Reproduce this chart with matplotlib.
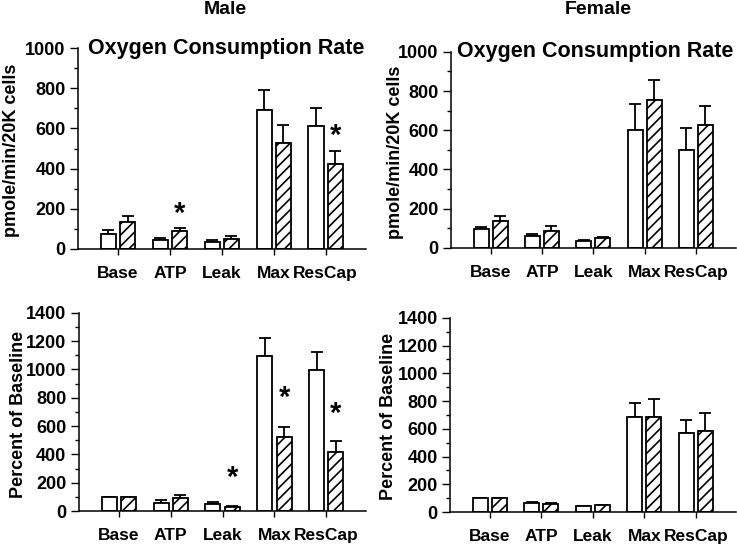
import numpy as np
import matplotlib.pyplot as plt
from matplotlib.ticker import MultipleLocator

plt.rcParams['font.family'] = ['Liberation Sans', 'DejaVu Sans']
plt.rcParams['font.weight'] = 'bold'
plt.rcParams['hatch.linewidth'] = 1.2

categories = ["Base", "ATP", "Leak", "Max", "ResCap"]

# oxygen consumption rate, pmole/min/20K cells
male_ocr_open = [75, 43, 36, 690, 614]
male_ocr_open_err = [21, 12, 9, 99, 88]
male_ocr_hatch = [133, 88, 50, 527, 425]
male_ocr_hatch_err = [30, 15, 13, 92, 65]

female_ocr_open = [97, 61, 36, 602, 498]
female_ocr_open_err = [8, 10, 6, 130, 114]
female_ocr_hatch = [137, 88, 51, 754, 627]
female_ocr_hatch_err = [27, 22, 4, 102, 97]

# percent of baseline
male_pct_open = [100, 57, 52, 1097, 998]
male_pct_open_err = [0, 19, 9, 125, 125]
male_pct_hatch = [100, 92, 26, 520, 419]
male_pct_hatch_err = [0, 22, 7, 76, 75]

female_pct_open = [100, 65, 41, 683, 567]
female_pct_open_err = [0, 7, 5, 101, 97]
female_pct_hatch = [100, 60, 48, 688, 587]
female_pct_hatch_err = [0, 3, 5, 125, 125]

# stars: (category index, y position)
male_ocr_stars = [(1, 175), (4, 565)]
male_pct_stars = [(2, 235), (3, 800), (4, 685)]

fig = plt.figure(figsize=(7.37, 5.46), dpi=100)

x = np.arange(len(categories))
w = 0.29
off = 0.185


def panel(rect, ymax, opn, opn_err, hat, hat_err, ylabel, labx,
          title=None, titx=0.5, stars=()):
    ax = fig.add_axes(rect)
    ax.bar(x - off, opn, w, color="white", edgecolor="black", linewidth=1.3, zorder=2)
    ax.bar(x + off, hat, w, color="white", edgecolor="black", linewidth=1.3,
           hatch="///", zorder=2)
    ax.errorbar(x - off, opn, yerr=[np.zeros(len(x)), opn_err], fmt="none",
                ecolor="black", elinewidth=1.3, capsize=4, capthick=1.3, zorder=1)
    ax.errorbar(x + off, hat, yerr=[np.zeros(len(x)), hat_err], fmt="none",
                ecolor="black", elinewidth=1.3, capsize=4, capthick=1.3, zorder=1)
    for i, yy in stars:
        ax.text(x[i] + off, yy, "*", ha="center", va="center", fontsize=21,
                fontweight="bold")
    ax.set_xlim(-0.77, 4.77)
    ax.set_ylim(0, ymax)
    ax.set_xticks(x)
    ax.set_xticklabels(categories, fontsize=12.5, fontweight="bold")
    ax.yaxis.set_major_locator(MultipleLocator(200))
    ax.yaxis.set_minor_locator(MultipleLocator(100))
    for lbl in ax.get_yticklabels():
        lbl.set_fontweight("bold")
        lbl.set_fontsize(13)
    ax.tick_params(axis="x", length=4, width=1, pad=8)
    ax.tick_params(axis="y", which="major", length=6, width=1, pad=3)
    ax.tick_params(axis="y", which="minor", length=3, width=1)
    ax.spines["top"].set_visible(False)
    ax.spines["right"].set_visible(False)
    ax.spines["left"].set_linewidth(1.1)
    ax.spines["bottom"].set_linewidth(1.1)
    ax.set_ylabel(ylabel, fontsize=13, fontweight="bold")
    ax.yaxis.set_label_coords(labx, 0.49)
    if title:
        ax.text(titx, 1.0, title, transform=ax.transAxes, ha="center", va="center",
                fontsize=15.5, fontweight="bold")
    return ax


panel([0.106, 0.544, 0.39, 0.368], 1000, male_ocr_open, male_ocr_open_err,
      male_ocr_hatch, male_ocr_hatch_err, "pmole/min/20K cells", -0.202,
      "Oxygen Consumption Rate", 0.515, male_ocr_stars)
panel([0.612, 0.546, 0.386, 0.359], 1000, female_ocr_open, female_ocr_open_err,
      female_ocr_hatch, female_ocr_hatch_err, "pmole/min/20K cells", -0.166,
      "Oxygen Consumption Rate", 0.505)
panel([0.107, 0.064, 0.39, 0.363], 1400, male_pct_open, male_pct_open_err,
      male_pct_hatch, male_pct_hatch_err, "Percent of Baseline", -0.18,
      stars=male_pct_stars)
panel([0.611, 0.062, 0.387, 0.356], 1400, female_pct_open, female_pct_open_err,
      female_pct_hatch, female_pct_hatch_err, "Percent of Baseline", -0.188)

fig.text(225 / 737, 1 - 10 / 546, "Male", ha="center", va="center", fontsize=14,
         fontweight="bold")
fig.text(598 / 737, 1 - 10 / 546, "Female", ha="center", va="center", fontsize=14,
         fontweight="bold")

fig.savefig("out.png", dpi=100)
